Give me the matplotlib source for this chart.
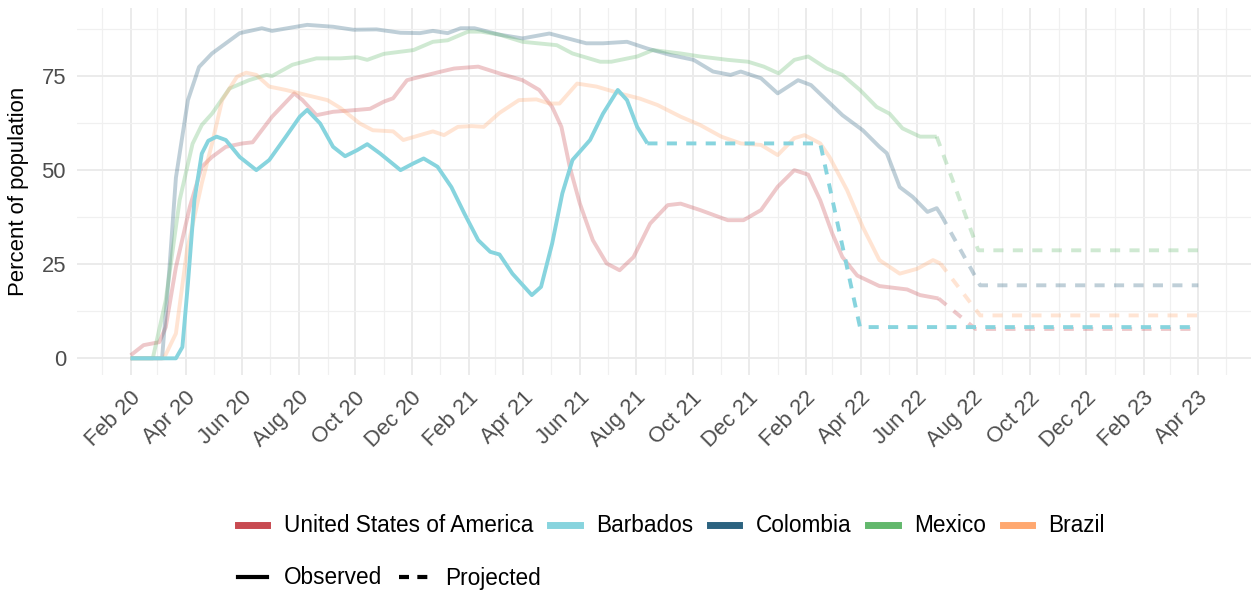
import matplotlib
matplotlib.use('Agg')
import matplotlib.pyplot as plt
import matplotlib.dates as mdates
import matplotlib.transforms as mtransforms
from matplotlib.lines import Line2D
import pandas as pd

plt.rcParams['font.family'] = ['Liberation Sans', 'DejaVu Sans']

# Colores de cada pais
colores = {
    'United States of America': '#C84A51',
    'Barbados': '#87D4DE',
    'Colombia': '#2C6380',
    'Mexico': '#62B86C',
    'Brazil': '#FFA870',
}

# --- Datos (fecha, % de poblacion) ---
usa_fechas = ['2020-02-01', '2020-02-15', '2020-03-03', '2020-03-10', '2020-03-21', '2020-04-05',
              '2020-04-18', '2020-04-29', '2020-05-14', '2020-06-01', '2020-06-12', '2020-07-03',
              '2020-07-27', '2020-08-05', '2020-08-20', '2020-09-07', '2020-10-03', '2020-10-17',
              '2020-11-01', '2020-11-11', '2020-11-26', '2020-12-10', '2021-01-02', '2021-01-16',
              '2021-02-11', '2021-03-06', '2021-03-31', '2021-04-18', '2021-05-02', '2021-05-12',
              '2021-05-21', '2021-06-01', '2021-06-15', '2021-06-30', '2021-07-14', '2021-07-29',
              '2021-08-16', '2021-09-04', '2021-09-18', '2021-10-09', '2021-11-08', '2021-11-25',
              '2021-12-14', '2022-01-01', '2022-01-19', '2022-02-03', '2022-02-16', '2022-03-01',
              '2022-03-12', '2022-03-28', '2022-04-21', '2022-05-21', '2022-06-04', '2022-06-24']
usa_valores = [0.8, 3.5, 4.3, 8.3, 24.2, 40.2,
               50.9, 53.5, 56.2, 57.1, 57.4, 64.2,
               70.4, 68.6, 64.6, 65.5, 66.0, 66.3,
               68.2, 69.1, 73.9, 74.8, 76.2, 77.0,
               77.5, 75.7, 73.9, 71.3, 66.8, 61.5,
               50.9, 41.1, 31.4, 25.2, 23.4, 26.9,
               35.8, 40.7, 41.1, 39.4, 36.7, 36.7,
               39.4, 45.6, 50.0, 48.8, 42.0, 33.2,
               26.9, 22.0, 19.2, 18.3, 16.8, 15.9]
usa_proy_fechas = ['2022-06-24', '2022-08-03', '2023-04-01']
usa_proy_valores = [15.9, 7.8, 7.8]

barbados_fechas = ['2020-02-01', '2020-03-21', '2020-03-28', '2020-04-03', '2020-04-10', '2020-04-18',
                   '2020-04-25', '2020-05-04', '2020-05-14', '2020-05-29', '2020-06-16', '2020-06-30',
                   '2020-07-18', '2020-08-02', '2020-08-10', '2020-08-24', '2020-09-07', '2020-09-20',
                   '2020-10-03', '2020-10-14', '2020-10-28', '2020-11-19', '2020-12-03', '2020-12-14',
                   '2020-12-29', '2021-01-13', '2021-01-27', '2021-02-11', '2021-02-24', '2021-03-06',
                   '2021-03-20', '2021-04-10', '2021-04-20', '2021-05-02', '2021-05-13', '2021-05-24',
                   '2021-06-12', '2021-06-26', '2021-07-12', '2021-07-22', '2021-08-02', '2021-08-13']
barbados_valores = [0.0, 0.0, 3.0, 19.9, 42.0, 54.4,
                    57.8, 58.9, 58.0, 53.5, 50.0, 52.7,
                    58.9, 64.2, 66.0, 62.4, 56.2, 53.7,
                    55.3, 56.9, 54.4, 50.0, 51.8, 53.1,
                    50.9, 45.5, 38.5, 31.4, 28.3, 27.6,
                    22.5, 16.8, 19.0, 30.5, 43.8, 52.7,
                    58.0, 65.0, 71.3, 68.6, 61.5, 57.1]
barbados_proy_fechas = ['2021-08-13', '2022-02-16', '2022-03-31', '2023-04-01']
barbados_proy_valores = [57.1, 57.1, 8.3, 8.3]

colombia_fechas = ['2020-02-01', '2020-03-06', '2020-03-14', '2020-03-21', '2020-04-03', '2020-04-15',
                   '2020-04-29', '2020-05-29', '2020-06-22', '2020-07-03', '2020-08-10', '2020-09-07',
                   '2020-09-29', '2020-10-24', '2020-11-19', '2020-12-10', '2020-12-24', '2021-01-09',
                   '2021-01-23', '2021-02-07', '2021-03-06', '2021-03-31', '2021-04-29', '2021-06-08',
                   '2021-06-26', '2021-07-22', '2021-08-13', '2021-09-07', '2021-10-02', '2021-10-23',
                   '2021-11-11', '2021-11-22', '2021-12-14', '2022-01-01', '2022-01-23', '2022-02-06',
                   '2022-02-23', '2022-03-12', '2022-04-03', '2022-04-21', '2022-04-29', '2022-05-13',
                   '2022-05-27', '2022-06-12', '2022-06-22', '2022-06-27']
colombia_valores = [0.0, 0.0, 24.0, 48.0, 68.6, 77.4,
                    81.0, 86.4, 87.7, 87.0, 88.6, 88.1,
                    87.3, 87.4, 86.5, 86.4, 87.0, 86.4,
                    87.7, 87.7, 86.0, 85.0, 86.3, 83.7,
                    83.7, 84.1, 82.3, 80.6, 79.3, 76.2,
                    75.3, 76.2, 74.4, 70.4, 73.9, 72.6,
                    68.6, 64.6, 60.6, 56.2, 54.5, 45.5,
                    42.9, 38.9, 39.9, 38.0]
colombia_proy_fechas = ['2022-06-27', '2022-08-08', '2023-04-01']
colombia_proy_valores = [38.0, 19.4, 19.4]

mexico_fechas = ['2020-02-01', '2020-02-25', '2020-03-10', '2020-03-25', '2020-04-08', '2020-04-18',
                 '2020-04-29', '2020-05-18', '2020-06-08', '2020-06-27', '2020-07-03', '2020-07-25',
                 '2020-08-20', '2020-09-15', '2020-10-03', '2020-10-14', '2020-11-01', '2020-12-03',
                 '2020-12-24', '2021-01-09', '2021-01-31', '2021-02-14', '2021-03-06', '2021-03-31',
                 '2021-05-07', '2021-05-24', '2021-06-23', '2021-07-05', '2021-08-02', '2021-08-19',
                 '2021-09-18', '2021-10-09', '2021-11-08', '2021-11-30', '2021-12-17', '2022-01-02',
                 '2022-01-19', '2022-02-03', '2022-02-23', '2022-03-12', '2022-03-31', '2022-04-18',
                 '2022-05-02', '2022-05-16', '2022-06-04', '2022-06-22']
mexico_valores = [0.0, 0.0, 15.4, 42.0, 57.0, 62.0,
                  65.0, 71.7, 73.9, 75.3, 75.0, 78.0,
                  79.7, 79.7, 80.0, 79.3, 80.9, 81.9,
                  84.1, 84.5, 86.8, 86.8, 86.0, 84.1,
                  83.2, 81.0, 78.8, 78.8, 80.2, 81.9,
                  81.0, 80.2, 79.3, 78.8, 77.5, 75.7,
                  79.3, 80.2, 77.0, 75.3, 71.3, 66.8,
                  65.0, 61.1, 58.9, 58.9]
mexico_proy_fechas = ['2022-06-22', '2022-08-06', '2023-04-01']
mexico_proy_valores = [58.9, 28.7, 28.7]

brazil_fechas = ['2020-02-01', '2020-03-08', '2020-03-21', '2020-04-02', '2020-04-18', '2020-04-29',
                 '2020-05-10', '2020-05-26', '2020-06-05', '2020-06-16', '2020-06-30', '2020-07-18',
                 '2020-08-10', '2020-09-01', '2020-09-15', '2020-10-06', '2020-10-20', '2020-11-11',
                 '2020-11-22', '2020-12-10', '2020-12-24', '2021-01-05', '2021-01-20', '2021-02-04',
                 '2021-02-17', '2021-03-06', '2021-03-27', '2021-04-15', '2021-04-29', '2021-05-10',
                 '2021-05-29', '2021-06-19', '2021-07-14', '2021-08-05', '2021-08-24', '2021-09-18',
                 '2021-10-09', '2021-11-01', '2021-11-22', '2021-12-14', '2022-01-01', '2022-01-19',
                 '2022-01-30', '2022-02-16', '2022-02-26', '2022-03-17', '2022-04-03', '2022-04-21',
                 '2022-05-13', '2022-06-01', '2022-06-18', '2022-06-26']
brazil_valores = [0.0, 0.0, 6.6, 28.7, 46.5, 57.0,
                  68.6, 74.8, 75.9, 75.3, 72.2, 71.3,
                  69.9, 68.6, 66.5, 62.4, 60.6, 60.3,
                  58.0, 59.3, 60.3, 59.3, 61.5, 61.7,
                  61.5, 65.2, 68.6, 68.8, 67.7, 67.7,
                  73.0, 72.2, 70.4, 69.0, 67.3, 64.2,
                  62.0, 58.9, 57.1, 56.7, 54.0, 58.5,
                  59.3, 57.1, 53.5, 44.7, 34.9, 26.1,
                  22.5, 23.8, 26.1, 25.2]
brazil_proy_fechas = ['2022-06-26', '2022-08-08', '2023-04-01']
brazil_proy_valores = [25.2, 11.4, 11.4]

series = [
    ('United States of America', usa_fechas, usa_valores, usa_proy_fechas, usa_proy_valores),
    ('Colombia', colombia_fechas, colombia_valores, colombia_proy_fechas, colombia_proy_valores),
    ('Mexico', mexico_fechas, mexico_valores, mexico_proy_fechas, mexico_proy_valores),
    ('Brazil', brazil_fechas, brazil_valores, brazil_proy_fechas, brazil_proy_valores),
    ('Barbados', barbados_fechas, barbados_valores, barbados_proy_fechas, barbados_proy_valores),
]

fig = plt.figure(figsize=(12.52, 5.93), dpi=100)
ax = fig.add_axes([77 / 1252, 1 - 375 / 593, (1251 - 77) / 1252, (375 - 8.3) / 593])

lw = 2.8
guiones = (2.6, 2.4)
for nombre, f_obs, v_obs, f_proy, v_proy in series:
    alfa = 1.0 if nombre == 'Barbados' else 0.3
    ax.plot(pd.to_datetime(f_obs), v_obs, color=colores[nombre], lw=lw, alpha=alfa,
            solid_joinstyle='round', solid_capstyle='butt')
    ax.plot(pd.to_datetime(f_proy), v_proy, color=colores[nombre], lw=lw, alpha=alfa,
            dashes=guiones, dash_capstyle='butt')

ax.set_xlim(pd.Timestamp('2019-12-05'), pd.Timestamp('2023-05-28'))
ax.set_ylim(-4.43, 93.0)

ax.xaxis.set_major_locator(mdates.MonthLocator(bymonth=[2, 4, 6, 8, 10, 12]))
ax.xaxis.set_minor_locator(mdates.MonthLocator(bymonth=[1, 3, 5, 7, 9, 11]))
ax.xaxis.set_major_formatter(mdates.DateFormatter('%b %y'))
ax.set_yticks([0, 25, 50, 75])
ax.set_yticks([12.5, 37.5, 62.5, 87.5], minor=True)

ax.grid(which='major', color='#EBEBEB', lw=1.4)
ax.grid(which='minor', color='#F0F0F0', lw=0.9)
ax.set_axisbelow(True)
for s in ax.spines.values():
    s.set_visible(False)

ax.tick_params(which='both', length=0)
ax.tick_params(axis='y', labelsize=15.8, labelcolor='#4D4D4D', pad=8)
ax.tick_params(axis='x', labelsize=15.8, labelcolor='#4D4D4D', pad=9)
desplaza = mtransforms.ScaledTranslation(-1 / 100, 0, fig.dpi_scale_trans)
for etiqueta in ax.get_xticklabels():
    etiqueta.set_rotation(45)
    etiqueta.set_ha('right')
    etiqueta.set_va('top')
    etiqueta.set_rotation_mode('anchor')
    etiqueta.set_transform(etiqueta.get_transform() + desplaza)

ax.set_ylabel('Percent of population', fontsize=15.9, color='black', labelpad=9)

# Leyendas
paises_leyenda = ['United States of America', 'Barbados', 'Colombia', 'Mexico', 'Brazil']
h_paises = [Line2D([0], [0], color=colores[p], lw=5) for p in paises_leyenda]
fig.legend(h_paises, paises_leyenda, loc='center left', bbox_to_anchor=(238 / 1252, 1 - 526 / 593),
           ncol=5, frameon=False, fontsize=16.3, handlelength=1.3, handletextpad=0.72,
           columnspacing=0.75, borderpad=0, borderaxespad=0)

h_tipo = [Line2D([0], [0], color='black', lw=3),
          Line2D([0], [0], color='black', lw=3, dashes=(2.4, 2.0))]
fig.legend(h_tipo, ['Observed', 'Projected'], loc='center left', bbox_to_anchor=(238 / 1252, 1 - 578 / 593),
           ncol=2, frameon=False, fontsize=16.3, handlelength=1.3, handletextpad=0.72,
           columnspacing=0.75, borderpad=0, borderaxespad=0)

fig.savefig('out.png', dpi=100)
